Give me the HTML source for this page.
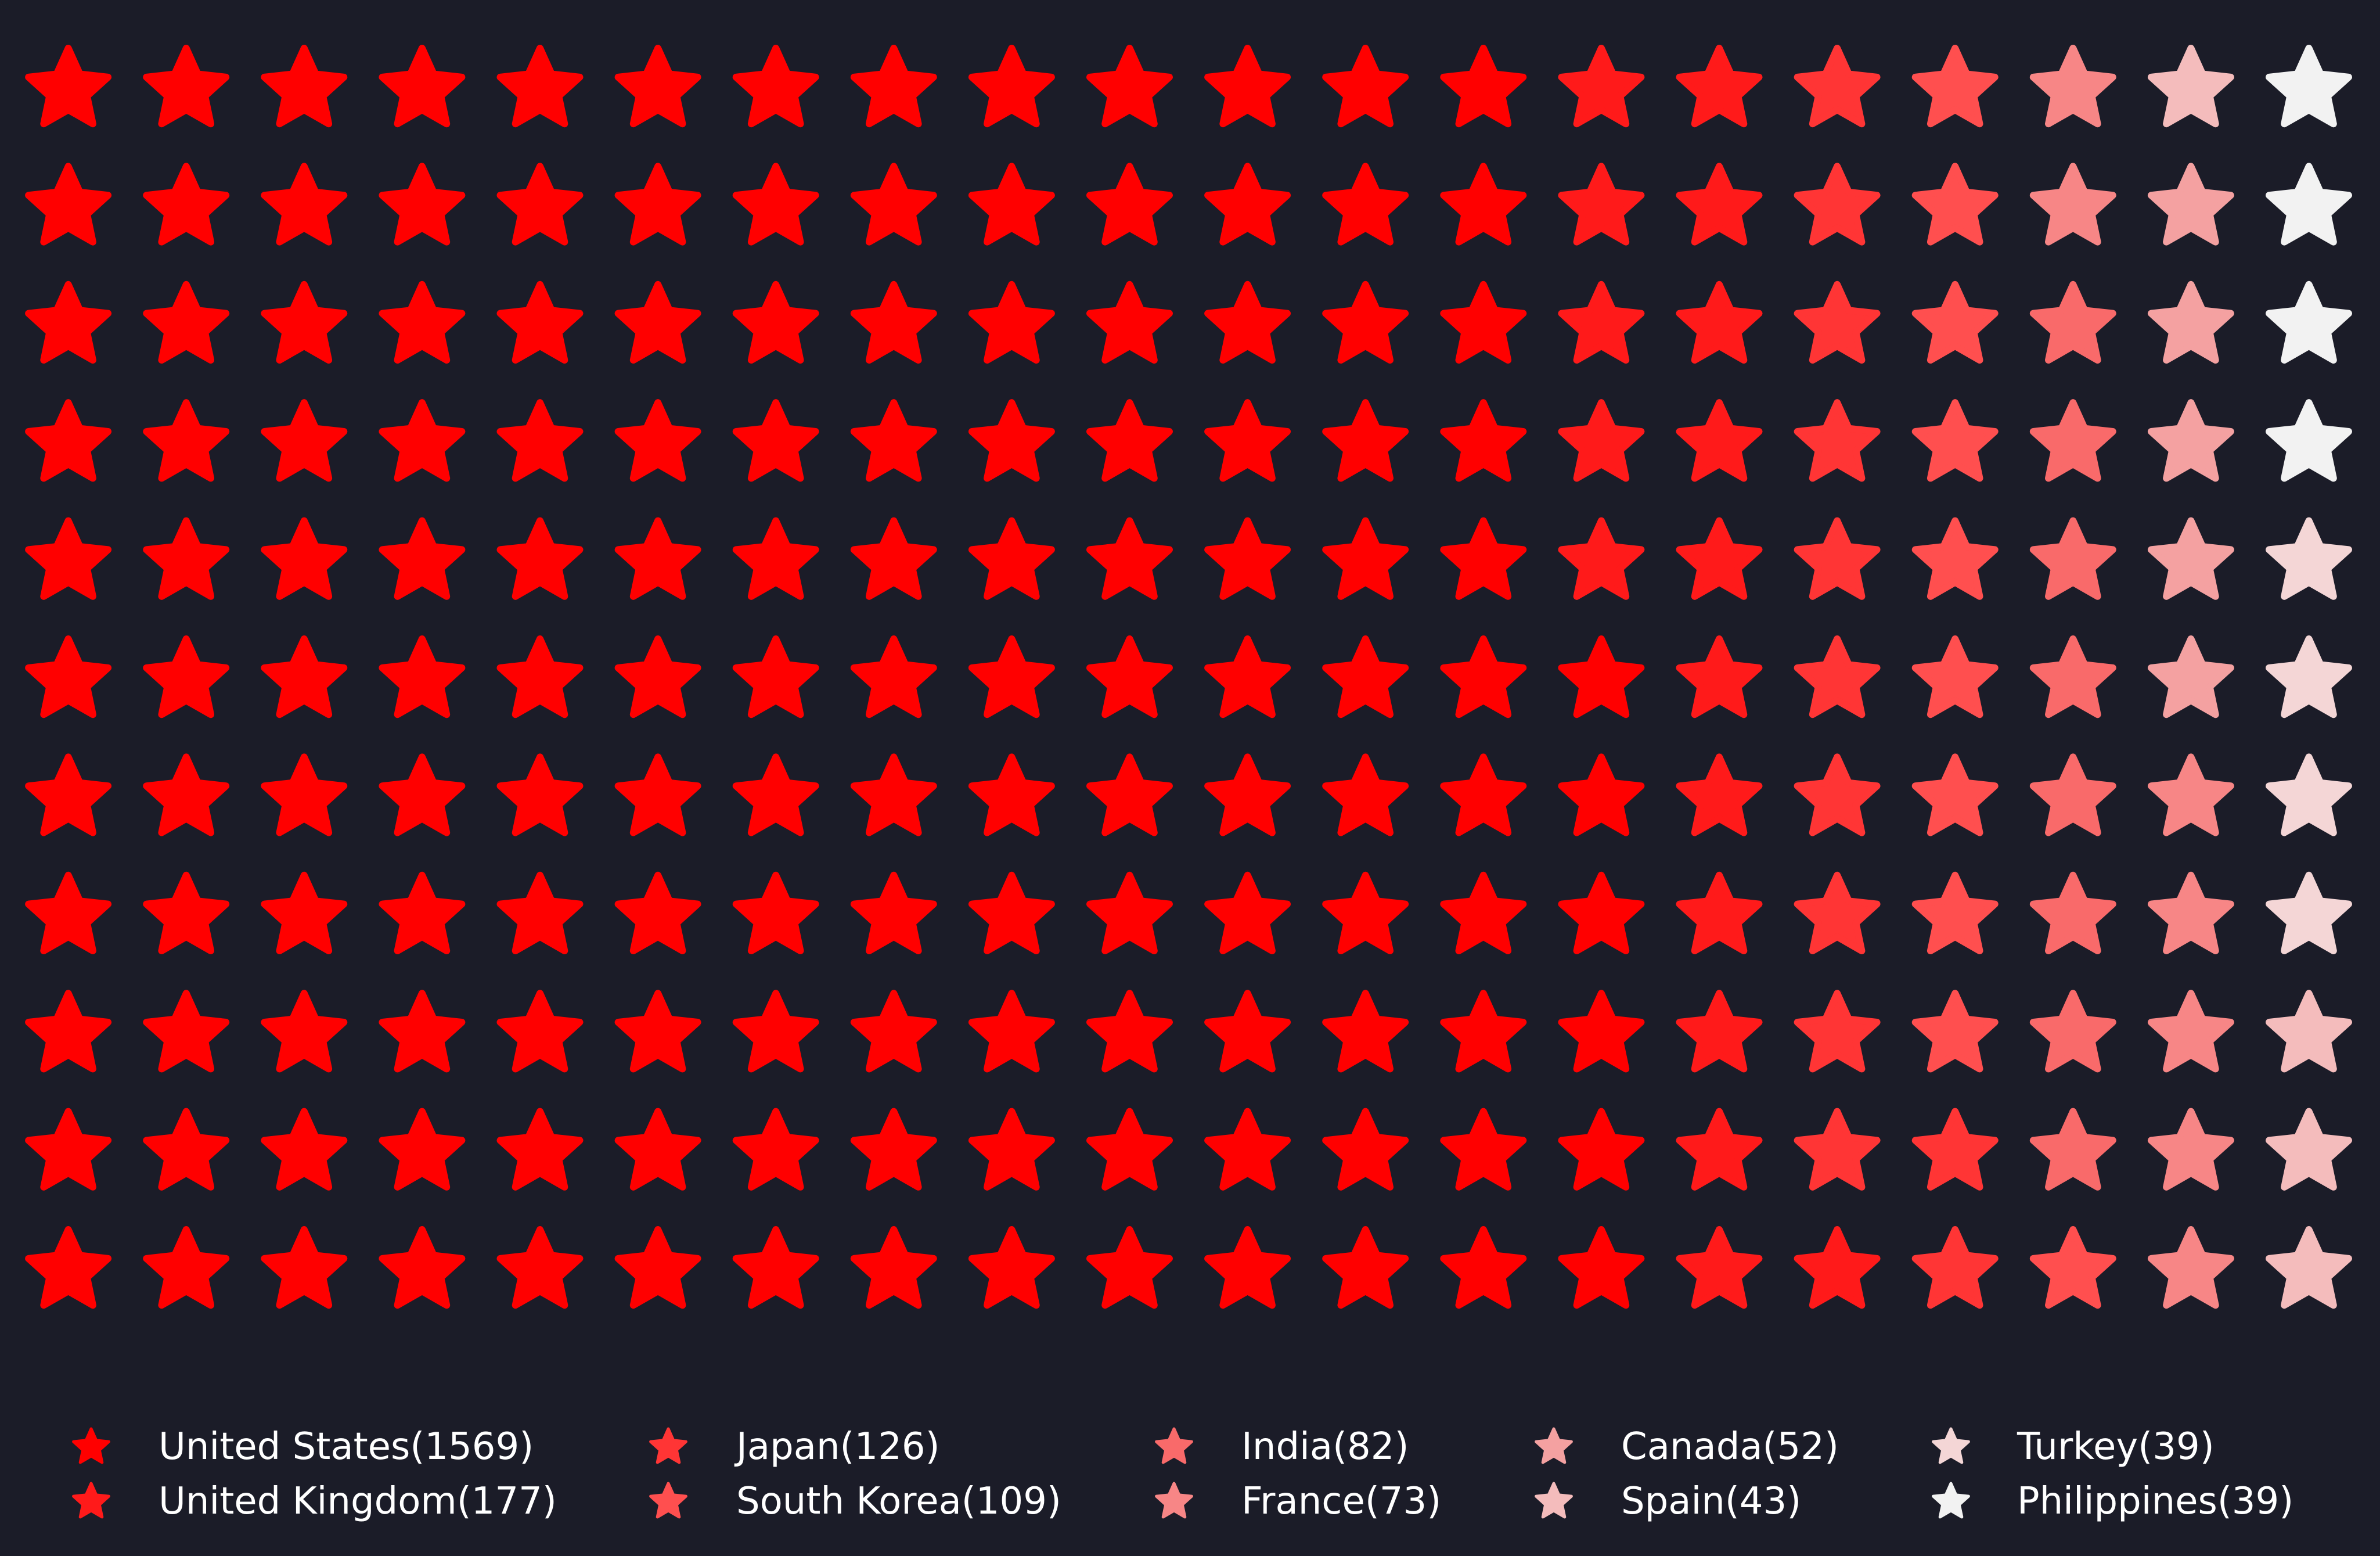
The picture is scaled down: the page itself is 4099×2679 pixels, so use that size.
<!DOCTYPE html>
<html><head><meta charset="utf-8"><style>
html,body{margin:0;padding:0;background:#1b1c28;}
svg{display:block;}
text{font-family:"DejaVu Sans","Liberation Sans",sans-serif;fill:#ffffff;}
</style></head><body>
<svg id="chart" width="4099" height="2679" viewBox="0 0 4099 2679" xmlns="http://www.w3.org/2000/svg">
<rect width="4099" height="2679" fill="#1b1c28"/>
<g id="grid"></g>
<g id="legend"></g>
</svg>
<script>
const categories = ["United States","United Kingdom","Japan","South Korea","India","France","Canada","Spain","Turkey","Philippines"];
const values = [1569,177,126,109,82,73,52,43,39,39];
const cellCounts = [149,17,12,10,8,7,5,4,4,4];
const colors = ["#ff0000","#ff1a1a","#ff3535","#ff4f4f","#f96a6a","#f78686","#f4a1a1","#f4bcbc","#f4d6d6","#f2f2f2"];
const nCols = 20, nRows = 11;

const NS = "http://www.w3.org/2000/svg";
function starPath(cx, cy, R, r) {
  let d = "";
  for (let i = 0; i < 10; i++) {
    const rad = i % 2 === 0 ? R : r;
    const a = -Math.PI / 2 + i * Math.PI / 5;
    d += (i === 0 ? "M" : "L") + (cx + rad * Math.cos(a)).toFixed(1) + " " + (cy + rad * Math.sin(a)).toFixed(1);
  }
  return d + "Z";
}
const x0 = 117.6, dx = 203.1, yTop = 155, dy = 203.4;
const grid = document.getElementById("grid");
let idx = 0;
for (let c = 0; c < categories.length; c++) {
  for (let k = 0; k < cellCounts[c]; k++) {
    const col = Math.floor(idx / nRows);
    const rowFromBottom = idx % nRows;
    const row = nRows - 1 - rowFromBottom;
    const p = document.createElementNS(NS, "path");
    p.setAttribute("d", starPath(x0 + col * dx, yTop + row * dy, 72, 34));
    p.setAttribute("fill", colors[c]);
    p.setAttribute("stroke", colors[c]);
    p.setAttribute("stroke-width", "12");
    p.setAttribute("stroke-linejoin", "round");
    
    
    grid.appendChild(p);
    idx++;
  }
}
const legend = document.getElementById("legend");
const legX = [157, 1151, 2022, 2676, 3360];
const legTextX = [273, 1268, 2138, 2792, 3474];
const legY = [2489, 2583];
for (let i = 0; i < categories.length; i++) {
  const col = Math.floor(i / 2), row = i % 2;
  const g = document.createElementNS(NS, "g");
  
  
  const s = document.createElementNS(NS, "path");
  s.setAttribute("d", starPath(legX[col], legY[row] + 3, 32, 15));
  s.setAttribute("fill", colors[i]);
  s.setAttribute("stroke", colors[i]);
  s.setAttribute("stroke-width", "5");
  s.setAttribute("stroke-linejoin", "round");
  
  
  g.appendChild(s);
  const t = document.createElementNS(NS, "text");
  t.setAttribute("x", legTextX[col]);
  t.setAttribute("y", legY[row] + 23);
  t.setAttribute("font-size", "64");
  t.textContent = categories[i] + "(" + values[i] + ")";
  
  
  g.appendChild(t);
  legend.appendChild(g);
}
</script>
</body></html>
